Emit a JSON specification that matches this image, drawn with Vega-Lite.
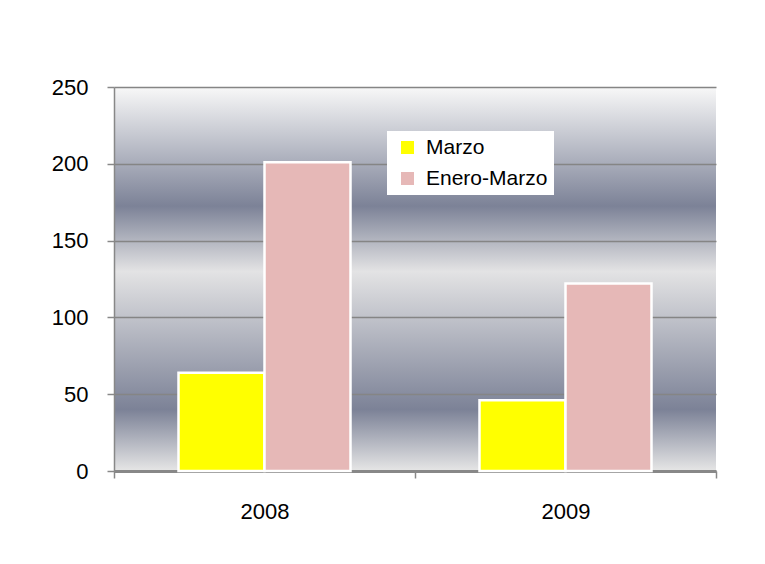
{
  "$schema": "https://vega.github.io/schema/vega-lite/v6.json",
  "width": 602,
  "height": 384,
  "autosize": {"type": "none"},
  "padding": {"left": 114, "top": 87, "right": 49, "bottom": 93},
  "background": "white",
  "data": {"values": [
    {"year": "2008", "serie": "Marzo", "value": 64},
    {"year": "2008", "serie": "Enero-Marzo", "value": 201},
    {"year": "2009", "serie": "Marzo", "value": 46},
    {"year": "2009", "serie": "Enero-Marzo", "value": 122}
  ]},
  "mark": {"type": "bar", "stroke": "white", "strokeWidth": 2.5},
  "encoding": {
    "x": {"field": "year", "type": "nominal", "title": null,
      "scale": {"paddingInner": 0, "paddingOuter": 0},
      "axis": {"labelAngle": 0, "labelFont": "Liberation Sans", "labelFontSize": 22, "labelColor": "black", "labelPadding": 23, "tickBand": "extent", "tickSize": 7, "tickColor": "#888888", "tickWidth": 1.5, "domainColor": "#888888", "domainWidth": 3, "grid": false}},
    "xOffset": {"field": "serie", "type": "nominal", "sort": ["Marzo", "Enero-Marzo"],
      "scale": {"paddingInner": 0, "paddingOuter": 0.75}},
    "y": {"field": "value", "type": "quantitative", "title": null,
      "scale": {"domain": [0, 250], "nice": false},
      "axis": {"values": [0, 50, 100, 150, 200, 250], "labelFont": "Liberation Sans", "labelFontSize": 22, "labelColor": "black", "labelPadding": 19, "tickSize": 7, "tickColor": "#888888", "tickWidth": 1.5, "domainColor": "#888888", "domainWidth": 1.5, "gridColor": "#858585", "gridWidth": 1.5, "gridOpacity": 1}},
    "color": {"field": "serie", "type": "nominal", "sort": ["Marzo", "Enero-Marzo"],
      "scale": {"domain": ["Marzo", "Enero-Marzo"], "range": ["#ffff00", "#e6b8b7"]},
      "legend": {"title": null, "orient": "none", "legendX": 273, "legendY": 44, "fillColor": "white", "padding": 6, "symbolType": "square", "symbolSize": 170, "symbolStrokeWidth": 0, "symbolOffset": 4, "labelFont": "Liberation Sans", "labelFontSize": 21, "labelColor": "black", "rowPadding": 9, "labelOffset": 8}}
  },
  "config": {
    "view": {"stroke": null, "fill": {"gradient": "linear", "x1": 0, "y1": 0, "x2": 0, "y2": 1, "stops": [
      {"offset": 0, "color": "#f8f8f8"},
      {"offset": 0.31, "color": "#7c8297"},
      {"offset": 0.48, "color": "#e3e3e4"},
      {"offset": 0.84, "color": "#7c8297"},
      {"offset": 1, "color": "#e6e6e6"}
    ]}}
  }
}
